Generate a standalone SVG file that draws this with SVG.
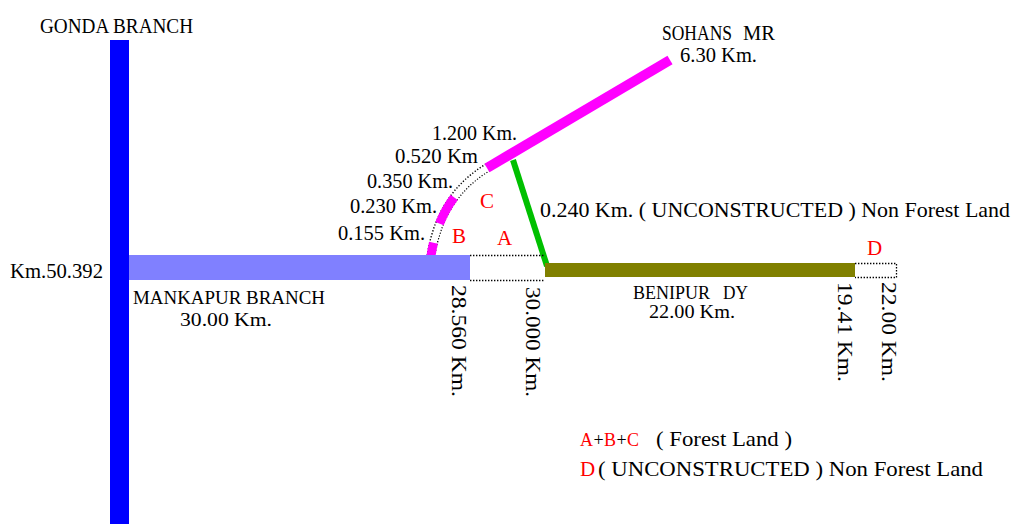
<svg xmlns="http://www.w3.org/2000/svg" width="1014" height="524" viewBox="0 0 1014 524">
<style>
text{font-family:"Liberation Serif","Times New Roman",serif;font-size:21px;fill:#000}
.r{fill:#FF0000}
.sm{font-size:19px}
.lg{font-size:18px}
.dot{fill:none;stroke:#000;stroke-width:1.3;stroke-dasharray:1.4 1.6}
</style>
<rect width="1014" height="524" fill="#fff"/>
<g id="connectors">
  <path d="M431,256 Q440,195 490,166" fill="none" stroke="#000" stroke-width="9" stroke-dasharray="1.2 1.8"/>
  <path d="M431,256 Q440,195 490,166" fill="none" stroke="#fff" stroke-width="6.4"/>
  <path d="M431,256 Q440,195 490,166" pathLength="100" fill="none" stroke="#FF00FF" stroke-width="9" stroke-dasharray="12 18 27 43"/>
  <line x1="513" y1="160" x2="547" y2="266" stroke="#00C000" stroke-width="6"/>
  <line x1="487" y1="168" x2="670" y2="60" stroke="#FF00FF" stroke-width="10"/>
</g>
<g id="gonda-branch">
  <rect x="110" y="40" width="19" height="484" fill="#0000FF"/>
  <text x="40" y="33" textLength="153" lengthAdjust="spacingAndGlyphs">GONDA BRANCH</text>
</g>
<g id="mankapur-branch">
  <rect x="129" y="255" width="341" height="25" fill="#8080FF"/>
  <text x="10" y="278" textLength="93" lengthAdjust="spacingAndGlyphs">Km.50.392</text>
  <text class="sm" x="133" y="304" textLength="192" lengthAdjust="spacingAndGlyphs">MANKAPUR BRANCH</text>
  <text class="sm" x="180" y="326" textLength="92" lengthAdjust="spacingAndGlyphs">30.00 Km.</text>
  <text transform="translate(452,285) rotate(90)" textLength="112" lengthAdjust="spacingAndGlyphs">28.560 Km.</text>
</g>
<g id="section-a">
  <line class="dot" x1="470" y1="255.5" x2="545" y2="255.5"/>
  <line class="dot" x1="470" y1="280.5" x2="545" y2="280.5"/>
  <text class="r" x="497" y="245">A</text>
  <text transform="translate(526,287) rotate(90)" textLength="110" lengthAdjust="spacingAndGlyphs">30.000 Km.</text>
</g>
<g id="benipur-dy">
  <rect x="545" y="263" width="310" height="14" fill="#808000"/>
  <text class="sm" x="633" y="299"><tspan textLength="77" lengthAdjust="spacingAndGlyphs">BENIPUR</tspan><tspan x="723" textLength="25" lengthAdjust="spacingAndGlyphs">DY</tspan></text>
  <text class="sm" x="649" y="318" textLength="86" lengthAdjust="spacingAndGlyphs">22.00 Km.</text>
  <text transform="translate(838,282) rotate(90)" textLength="100" lengthAdjust="spacingAndGlyphs">19.41 Km.</text>
</g>
<g id="section-d">
  <path class="dot" d="M855,263.5 H896.5 V277.5 H855"/>
  <text class="r" x="867" y="255">D</text>
  <text transform="translate(882,282) rotate(90)" textLength="100" lengthAdjust="spacingAndGlyphs">22.00 Km.</text>
</g>
<g id="curve-labels">
  <text x="432" y="140" textLength="85" lengthAdjust="spacingAndGlyphs">1.200 Km.</text>
  <text x="395" y="163" textLength="83" lengthAdjust="spacingAndGlyphs">0.520 Km</text>
  <text x="367" y="188" textLength="86" lengthAdjust="spacingAndGlyphs">0.350 Km.</text>
  <text x="350" y="213" textLength="87" lengthAdjust="spacingAndGlyphs">0.230 Km.</text>
  <text x="338" y="240" textLength="87" lengthAdjust="spacingAndGlyphs">0.155 Km.</text>
  <text class="r" x="480" y="208">C</text>
  <text class="r" x="452" y="243">B</text>
</g>
<g id="sohans-mr">
  <text x="662" y="40"><tspan textLength="70" lengthAdjust="spacingAndGlyphs">SOHANS</tspan><tspan x="743" textLength="32" lengthAdjust="spacingAndGlyphs">MR</tspan></text>
  <text x="680" y="62" textLength="77" lengthAdjust="spacingAndGlyphs">6.30 Km.</text>
</g>
<g id="link-label">
  <text x="540" y="217" textLength="470" lengthAdjust="spacingAndGlyphs">0.240 Km. ( UNCONSTRUCTED ) Non Forest Land</text>
</g>
<g id="legend">
  <text class="r lg" x="580" y="446">A</text>
  <text class="lg" x="593.5" y="446">+</text>
  <text class="r lg" x="604" y="446">B</text>
  <text class="lg" x="616.5" y="446">+</text>
  <text class="r lg" x="627" y="446">C</text>
  <text x="656" y="446" textLength="136" lengthAdjust="spacingAndGlyphs">( Forest Land )</text>
  <text class="r" x="580" y="476">D</text>
  <text x="598" y="476" textLength="385" lengthAdjust="spacingAndGlyphs">( UNCONSTRUCTED ) Non Forest Land</text>
</g>
</svg>
